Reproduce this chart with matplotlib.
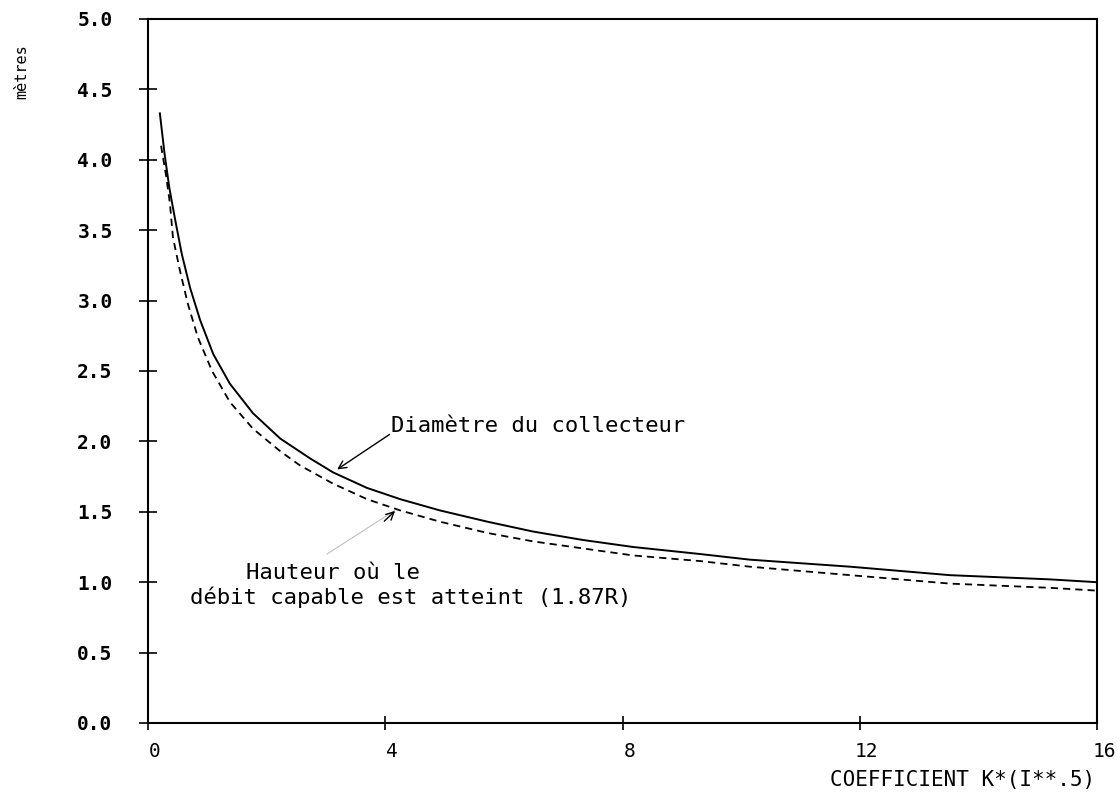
import matplotlib
matplotlib.use('Agg')
import matplotlib.pyplot as plt
import matplotlib.transforms as mtrans

# courbe pleine : diametre du collecteur
x_diam = [0.2, 0.28, 0.36, 0.46, 0.57, 0.71, 0.88, 1.10, 1.38, 1.77, 2.23, 2.73, 3.12, 3.69,
          4.25, 4.92, 5.72, 6.49, 7.33, 8.18, 9.31, 10.15, 11.84, 13.52, 15.21, 16.0]
y_diam = [4.33, 4.04, 3.80, 3.57, 3.33, 3.09, 2.86, 2.62, 2.41, 2.20, 2.02, 1.88, 1.78, 1.67,
          1.59, 1.51, 1.43, 1.36, 1.30, 1.25, 1.20, 1.16, 1.11, 1.05, 1.02, 1.00]

# courbe pointillee : hauteur (1.87R)
x_haut = [0.22, 0.30, 0.37, 0.42, 0.54, 0.67, 0.84, 1.08, 1.38, 1.77, 2.23, 2.56, 3.12,
          3.69, 4.25, 4.92, 5.72, 6.49, 7.33, 8.18, 9.31, 10.15, 11.84, 13.52, 15.21, 16.0]
y_haut = [4.10, 3.90, 3.69, 3.45, 3.21, 2.98, 2.74, 2.50, 2.28, 2.09, 1.93, 1.83, 1.70,
          1.59, 1.51, 1.43, 1.35, 1.29, 1.24, 1.19, 1.15, 1.11, 1.05, 0.99, 0.96, 0.94]

x_ticks = [0, 4, 8, 12, 16]
y_ticks = [0.0, 0.5, 1.0, 1.5, 2.0, 2.5, 3.0, 3.5, 4.0, 4.5, 5.0]

mono = 'DejaVu Sans Mono'

fig = plt.figure(figsize=(11.2, 7.93), dpi=100)
ax = fig.add_axes([148/1120, 1 - 723/793, (1097 - 148)/1120, (723 - 19)/793])

ax.plot(x_diam, y_diam, color='k', lw=1.4)
ax.plot(x_haut, y_haut, color='k', lw=1.3, linestyle=(0, (4, 2.8)))

ax.set_xlim(0, 16)
ax.set_ylim(0, 5)
ax.set_xticks(x_ticks)
ax.set_xticklabels([str(t) for t in x_ticks], family=mono, fontsize=14)
ax.set_yticks(y_ticks)
ax.set_yticklabels(['%.1f' % t for t in y_ticks], family=mono, fontsize=14,
                   fontweight='bold')

for s in ax.spines.values():
    s.set_linewidth(1.5)
ax.tick_params(axis='y', direction='inout', length=13, width=1.2, pad=19)
ax.tick_params(axis='x', direction='inout', length=10, width=1.2, pad=9)

# les etiquettes x du traceur sont un peu decalees a droite
shift = mtrans.ScaledTranslation(7/100, 0, fig.dpi_scale_trans)
for t in ax.xaxis.get_major_ticks():
    t.label1.set_transform(t.label1.get_transform() + shift)

# annotations
ax.text(4.10, 2.11, 'Diamètre du collecteur', family=mono, fontsize=16,
        ha='left', va='center')
ax.annotate('', xy=(3.15, 1.79), xytext=(4.11, 2.06),
            arrowprops=dict(arrowstyle='->', color='k', lw=1.0, mutation_scale=14))

ax.text(1.65, 1.064, 'Hauteur où le', family=mono, fontsize=16, ha='left', va='center')
ax.text(0.71, 0.894, 'débit capable est atteint (1.87R)', family=mono, fontsize=16,
        ha='left', va='center')
ax.annotate('', xy=(4.20, 1.52), xytext=(2.98, 1.19),
            arrowprops=dict(arrowstyle='-', color='0.75', lw=0.8))
ax.annotate('', xy=(4.20, 1.52), xytext=(3.95, 1.42),
            arrowprops=dict(arrowstyle='->', color='k', lw=1.0, mutation_scale=14))

fig.text(1095/1120, 1 - 780/793, 'COEFFICIENT K*(I**.5)', family=mono, fontsize=15,
         ha='right', va='center')
fig.text(22/1120, 1 - 72/793, 'mètres', family=mono, fontsize=11, rotation=90,
         ha='center', va='center')

fig.savefig('out.png', dpi=100)
